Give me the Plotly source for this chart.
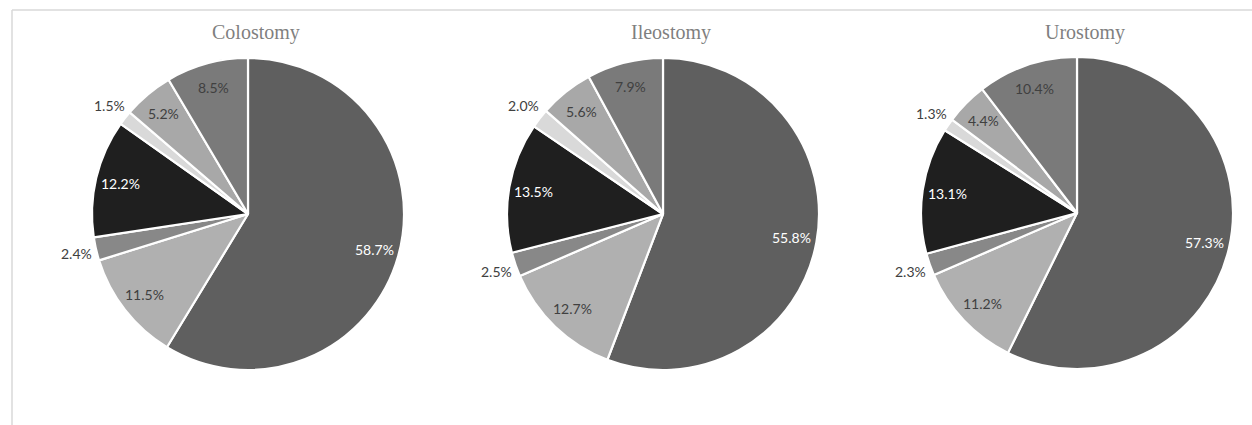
import math
import plotly.graph_objects as go

W, H = 1252, 425

titles = ["Colostomy", "Ileostomy", "Urostomy"]
categories = ["Category 1", "Category 2", "Category 3", "Category 4",
              "Category 5", "Category 6", "Category 7"]
colostomy = [58.7, 11.5, 2.4, 12.2, 1.5, 5.2, 8.5]
ileostomy = [55.8, 12.7, 2.5, 13.5, 2.0, 5.6, 7.9]
urostomy = [57.3, 11.2, 2.3, 13.1, 1.3, 4.4, 10.4]
series = [colostomy, ileostomy, urostomy]

colors = ["#5f5f5f", "#b0b0b0", "#888888", "#1f1f1f", "#d9d9d9", "#a8a8a8", "#7a7a7a"]
text_colors = ["#ffffff", "#404040", "#404040", "#ffffff", "#404040", "#404040", "#404040"]
outside = [False, False, True, False, True, False, False]

# pie centres (px) and radius
centers = [(248, 214), (663, 214), (1077, 213)]
R = 156

fig = go.Figure()
annotations = []
for (cx, cy), vals, title in zip(centers, series, titles):
    fig.add_trace(go.Pie(
        labels=categories, values=vals, sort=False, direction="clockwise",
        rotation=0, textinfo="none", hoverinfo="label+percent",
        marker=dict(colors=colors, line=dict(color="white", width=2.2)),
        domain=dict(x=[(cx - R) / W, (cx + R) / W],
                    y=[1 - (cy + R) / H, 1 - (cy - R) / H]),
        showlegend=False,
    ))
    total = sum(vals)
    cum = 0.0
    for v, tc, out in zip(vals, text_colors, outside):
        mid = (cum + v / 2) / total * 2 * math.pi
        cum += v
        d = R * (1.13 if out else 0.84)
        xs = cx + d * math.sin(mid)
        ys = cy - d * math.cos(mid)
        annotations.append(dict(
            x=xs / W, y=1 - ys / H, xref="paper", yref="paper",
            text=f"{v:.1f}%", showarrow=False,
            font=dict(family="Lato, Open Sans, sans-serif", size=14, color=tc),
            xanchor="center", yanchor="middle",
        ))
    annotations.append(dict(
        x=(cx + 8) / W, y=1 - 33 / H, xref="paper", yref="paper",
        text=title, showarrow=False,
        font=dict(family="Liberation Serif, Times New Roman, serif", size=20, color="#7f7f7f"),
        xanchor="center", yanchor="middle",
    ))

fig.update_layout(
    width=W, height=H,
    margin=dict(l=0, r=0, t=0, b=0),
    paper_bgcolor="white", plot_bgcolor="white",
    annotations=annotations,
    shapes=[
        dict(type="line", xref="paper", yref="paper",
             x0=12 / W, x1=1, y0=1 - 10 / H, y1=1 - 10 / H,
             line=dict(color="#d9d9d9", width=1.5)),
        dict(type="line", xref="paper", yref="paper",
             x0=12 / W, x1=12 / W, y0=0, y1=1 - 10 / H,
             line=dict(color="#d9d9d9", width=1.5)),
    ],
)

fig.write_html("out.html")
